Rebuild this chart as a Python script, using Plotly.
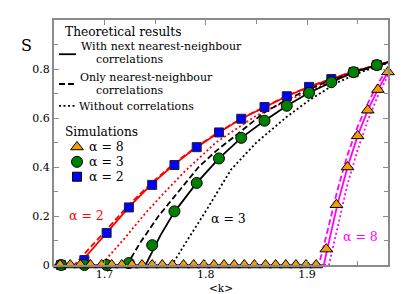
import plotly.graph_objects as go

# ---------------- data ----------------
# simulations
tri_x = [1.656, 1.666, 1.676, 1.686, 1.697, 1.707, 1.717, 1.727, 1.737, 1.747, 1.757,
         1.767, 1.778, 1.788, 1.798, 1.808, 1.818, 1.828, 1.838, 1.848, 1.859, 1.869,
         1.879, 1.889, 1.899, 1.909, 1.919, 1.929, 1.940, 1.950, 1.960, 1.970, 1.980]
tri_y = [0, 0, 0, 0, 0, 0, 0, 0, 0, 0, 0, 0, 0, 0, 0, 0, 0, 0, 0, 0, 0, 0, 0, 0, 0, 0,
         0.065, 0.246, 0.400, 0.527, 0.632, 0.716, 0.788]

sim_x = [1.657, 1.680, 1.702, 1.724, 1.747, 1.769, 1.791, 1.813, 1.835, 1.858,
         1.880, 1.902, 1.924, 1.946, 1.969]
circ_y = [0, 0, 0, 0.008, 0.081, 0.219, 0.335, 0.435, 0.519, 0.589,
          0.650, 0.703, 0.746, 0.787, 0.816]
sq_y = [0, 0.020, 0.131, 0.235, 0.327, 0.408, 0.481, 0.541, 0.597, 0.645,
        0.689, 0.727, 0.759, 0.787, 0.816]

# theory, alpha = 2 (red)
red_nnn_x = [1.65, 1.674, 1.702, 1.724, 1.746, 1.768, 1.791, 1.813, 1.835, 1.858, 1.880, 1.902, 1.924, 1.946, 1.969, 1.98]
red_nnn_y = [0, 0, 0.131, 0.236, 0.328, 0.408, 0.481, 0.541, 0.597, 0.645, 0.689, 0.727, 0.760, 0.790, 0.815, 0.828]
red_nn_x = [1.65, 1.670, 1.702, 1.724, 1.746, 1.768, 1.791, 1.813, 1.835, 1.858, 1.880, 1.902, 1.924, 1.946, 1.969, 1.98]
red_nn_y = [0, 0, 0.145, 0.245, 0.334, 0.412, 0.484, 0.543, 0.598, 0.646, 0.690, 0.728, 0.761, 0.791, 0.816, 0.828]
red_nc_x = [1.65, 1.6965, 1.72, 1.74, 1.76, 1.78, 1.81, 1.85, 1.88, 1.902, 1.924, 1.95, 1.98]
red_nc_y = [0, 0, 0.11, 0.21, 0.30, 0.385, 0.50, 0.61, 0.67, 0.71, 0.748, 0.79, 0.828]

# theory, alpha = 3 (black)
blk_nnn_x = [1.65, 1.7405, 1.755, 1.769, 1.791, 1.813, 1.835, 1.858, 1.880, 1.902, 1.924, 1.946, 1.969, 1.98]
blk_nnn_y = [0, 0, 0.12, 0.217, 0.335, 0.435, 0.519, 0.589, 0.650, 0.703, 0.746, 0.787, 0.816, 0.827]
blk_nn_x = [1.65, 1.722, 1.735, 1.7533, 1.7929, 1.81, 1.83, 1.857, 1.88, 1.902, 1.924, 1.95, 1.975, 1.98]
blk_nn_y = [0, 0, 0.09, 0.2, 0.4, 0.465, 0.53, 0.62, 0.675, 0.718, 0.755, 0.79, 0.82, 0.826]
blk_nc_x = [1.65, 1.7665, 1.78, 1.80, 1.825, 1.85, 1.88, 1.902, 1.93, 1.955, 1.98]
blk_nc_y = [0, 0, 0.09, 0.22, 0.39, 0.50, 0.605, 0.672, 0.745, 0.79, 0.825]

# theory, alpha = 8 (magenta)
mag_nnn_x = [1.65, 1.9166, 1.920, 1.930, 1.940, 1.950, 1.960, 1.970, 1.98]
mag_nnn_y = [0, 0, 0.065, 0.246, 0.40, 0.527, 0.632, 0.716, 0.788]
mag_nn_x = [1.65, 1.9117, 1.920, 1.930, 1.940, 1.950, 1.960, 1.970, 1.98]
mag_nn_y = [0, 0, 0.135, 0.305, 0.45, 0.565, 0.66, 0.74, 0.805]
mag_nc_x = [1.65, 1.9216, 1.930, 1.940, 1.950, 1.960, 1.970, 1.98]
mag_nc_y = [0, 0, 0.15, 0.33, 0.47, 0.59, 0.69, 0.775]

x_ticks = [1.7, 1.8, 1.9]
x_minor = [1.65, 1.75, 1.85, 1.95]
y_ticks = [0, 0.2, 0.4, 0.6, 0.8]
y_tick_text = ["0", "0.2", "0.4", "0.6", "0.8"]

# ---------------- figure ----------------
FONT = "DejaVu Serif"
W, H = 415, 294
ML, MR, MT, MB = 46, 35, 10, 37
PW, PH = W - ML - MR, H - MT - MB
DASH = "6px,3px"
DOT = "2px,2.5px"


def px(x):
    return (x - ML) / PW


def py(y):
    return (H - MB - y) / PH


fig = go.Figure()


def add_line(x, y, color, dash):
    fig.add_trace(go.Scatter(x=x, y=y, mode="lines", showlegend=False,
                             line=dict(color=color, width=1.8, dash=dash),
                             cliponaxis=True))


for (x, y, d) in [(red_nc_x, red_nc_y, DOT), (red_nn_x, red_nn_y, DASH), (red_nnn_x, red_nnn_y, "solid")]:
    add_line(x, y, "#ff0000", d)
for (x, y, d) in [(blk_nc_x, blk_nc_y, DOT), (blk_nn_x, blk_nn_y, DASH), (blk_nnn_x, blk_nnn_y, "solid")]:
    add_line(x, y, "#000000", d)
for (x, y, d) in [(mag_nc_x, mag_nc_y, DOT), (mag_nn_x, mag_nn_y, DASH), (mag_nnn_x, mag_nnn_y, "solid")]:
    add_line(x, y, "#ff00ff", d)

fig.add_trace(go.Scatter(x=sim_x, y=sq_y, mode="markers", showlegend=False, cliponaxis=False,
                         marker=dict(symbol="square", size=9, color="#0000ff",
                                     line=dict(color="#222222", width=1))))
fig.add_trace(go.Scatter(x=sim_x, y=circ_y, mode="markers", showlegend=False, cliponaxis=False,
                         marker=dict(symbol="circle", size=11, color="#008000",
                                     line=dict(color="#000000", width=1))))
fig.add_trace(go.Scatter(x=tri_x, y=tri_y, mode="markers", showlegend=False, cliponaxis=False,
                         marker=dict(symbol="triangle-up", size=11, color="#f0a000",
                                     line=dict(color="#000000", width=1))))

# legend marker samples on an overlay axis in plot-fraction units
leg_sym = ["triangle-up", "circle", "square"]
leg_col = ["#f0a000", "#008000", "#0000ff"]
leg_size = [11, 11, 9]
leg_yp = [138, 153, 168]
for s, c, sz, yy in zip(leg_sym, leg_col, leg_size, leg_yp):
    fig.add_trace(go.Scatter(x=[px(69)], y=[py(yy)], xaxis="x2", yaxis="y2", mode="markers",
                             showlegend=False, cliponaxis=False,
                             marker=dict(symbol=s, size=sz, color=c, line=dict(color="#000000", width=1))))

ann = []


def text(x, y, t, size, color="black", xanchor="left"):
    ann.append(dict(x=px(x), y=py(y), xref="paper", yref="paper", text=t, showarrow=False,
                    xanchor=xanchor, yanchor="middle", borderpad=0,
                    font=dict(family=FONT, size=size, color=color)))


text(56, 22, "Theoretical results", 12.2)
text(72, 36.5, "With next nearest-neighbour", 11)
text(87, 50, "correlations", 11)
text(71, 67.5, "Only nearest-neighbour", 11)
text(87, 81, "correlations", 11)
text(70, 97, "Without correlations", 11)
text(56, 123, "Simulations", 12.2)
text(80, 138, "α = 8", 12.5)
text(80, 153, "α = 3", 12.5)
text(80, 168, "α = 2", 12.5)
text(18, 36, "S", 16, xanchor="center")
text(213, 280, "&lt;k&gt;", 10.5, xanchor="center")
# curve labels in data coordinates
ann.append(dict(x=1.6817, y=0.201, text="α = 2", showarrow=False, xanchor="center", yanchor="middle",
                font=dict(family=FONT, size=12.5, color="#ff0000")))
ann.append(dict(x=1.8226, y=0.189, text="α = 3", showarrow=False, xanchor="center", yanchor="middle",
                font=dict(family=FONT, size=12.5, color="#000000")))
ann.append(dict(x=1.953, y=0.115, text="α = 8", showarrow=False, xanchor="center", yanchor="middle",
                font=dict(family=FONT, size=12.5, color="#ff00ff")))

shapes = []
for (yy, d) in [(44.5, "solid"), (74.5, DASH), (96.5, DOT)]:
    shapes.append(dict(type="line", xref="paper", yref="paper", x0=px(51), x1=px(68), y0=py(yy), y1=py(yy),
                       line=dict(color="black", width=1.8, dash=d)))

axis_common = dict(showline=True, linecolor="#8a8a8a", linewidth=2, mirror="allticks",
                   ticks="inside", ticklen=5, tickwidth=1, tickcolor="#8a8a8a",
                   showgrid=False, zeroline=False,
                   tickfont=dict(family=FONT, size=11, color="black"))

fig.update_layout(
    width=W, height=H,
    margin=dict(l=ML, r=MR, t=MT, b=MB),
    paper_bgcolor="white", plot_bgcolor="white",
    font=dict(family=FONT),
    xaxis=dict(range=[1.65, 1.98], tickvals=x_ticks, ticktext=[str(v) for v in x_ticks],
               ticklabelstandoff=-2,
               minor=dict(tickvals=x_minor, ticks="inside", ticklen=4, tickcolor="#8a8a8a"),
               **axis_common),
    yaxis=dict(range=[0, 1.0], tickvals=y_ticks, ticktext=y_tick_text,
               minor=dict(dtick=0.1, tick0=0, ticks="inside", ticklen=4, tickcolor="#8a8a8a"),
               **axis_common),
    xaxis2=dict(overlaying="x", range=[0, 1], visible=False),
    yaxis2=dict(overlaying="y", range=[0, 1], visible=False),
    annotations=ann, shapes=shapes, showlegend=False,
)

fig.write_html("out.html")
